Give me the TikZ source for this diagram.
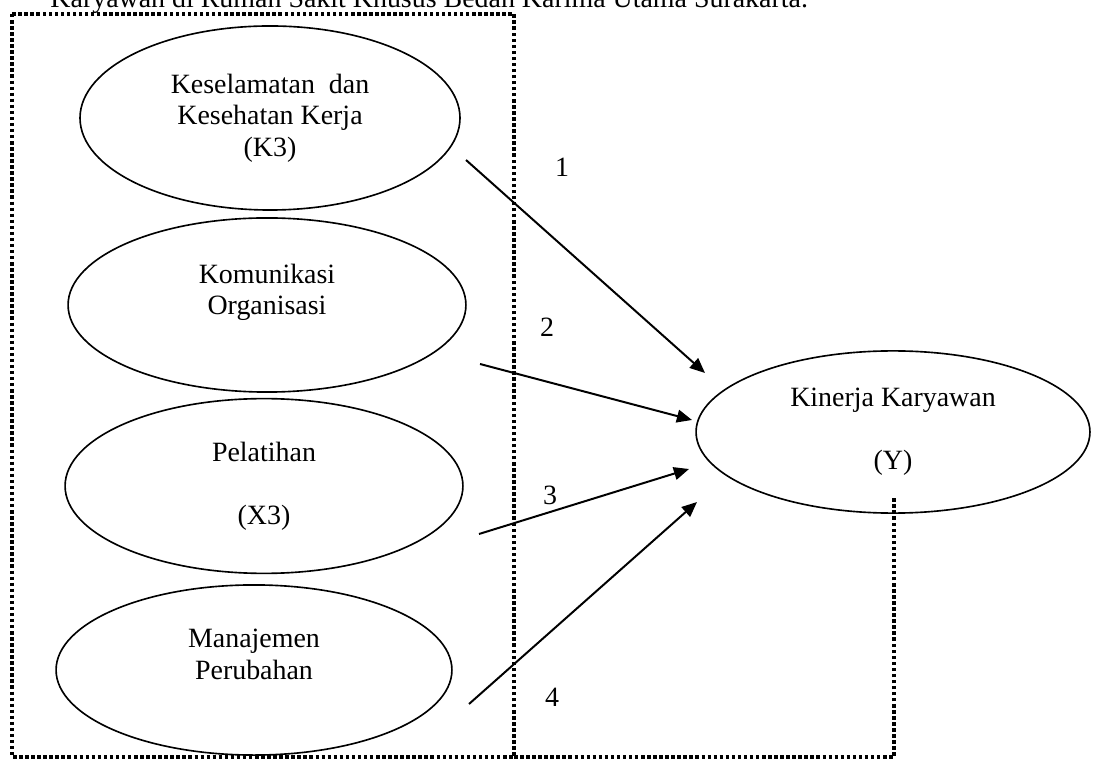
\documentclass[tikz,border=0pt]{standalone}
\usepackage{fontspec}
\setmainfont{Liberation Serif}
\usetikzlibrary{arrows.meta,shapes.geometric}

\begin{document}
\begin{tikzpicture}[
  x=0.0151cm,y=-0.0151cm,
  oval/.style={draw,ellipse,line width=0.7pt,inner sep=0pt,align=center,font=\fontsize{12}{13.5}\selectfont},
  arrow/.style={-{Triangle[length=6.5pt,width=5.5pt]},line width=0.85pt},
  border/.style={line width=1.5pt,dash pattern=on 1.5pt off 1.1pt},
  num/.style={font=\fontsize{12}{13.5}\selectfont,inner sep=0pt}
]
\useasboundingbox (0,0) rectangle (1094,760);
\node[num,anchor=base west] (judul) at (50,8) {Karyawan di Rumah Sakit Khusus Bedah Karima Utama Surakarta.};
% dotted frame
\draw[border] (12,14) rectangle (514,757);
\coordinate (ytail) at (894,497);
\draw[border] (514,757) -| (ytail);
% variables
\node[oval,minimum width=5.74cm,minimum height=2.78cm] (k3) at (270,118) {Keselamatan\ \ dan\\Kesehatan Kerja\\(K3)};
\node[oval,minimum width=6.01cm,minimum height=2.63cm] (kom) at (267,305) {Komunikasi\\Organisasi\\\mbox{}};
\node[oval,minimum width=6.01cm,minimum height=2.64cm] (pel) at (264,486) {Pelatihan\\[13.5pt](X3)};
\node[oval,minimum width=5.98cm,minimum height=2.57cm] (man) at (254,670) {Manajemen\\Perubahan\\\mbox{}};
\node[oval,minimum width=5.95cm,minimum height=2.45cm] (kin) at (893,432) {Kinerja Karyawan\\[13.5pt](Y)};
% arrows
\coordinate (s1) at (466,160); \coordinate (e1) at (705,373);
\coordinate (s2) at (480,364); \coordinate (e2) at (692,420);
\coordinate (s3) at (479,534); \coordinate (e3) at (689,469);
\coordinate (s4) at (469,704); \coordinate (e4) at (697,502);
\draw[arrow] (s1) -- (e1);
\draw[arrow] (s2) -- (e2);
\draw[arrow] (s3) -- (e3);
\draw[arrow] (s4) -- (e4);
\node[num] (n1) at (562,167) {1};
\node[num] (n2) at (547,327) {2};
\node[num] (n3) at (550,495) {3};
\node[num] (n4) at (552,697) {4};
\end{tikzpicture}
\end{document}
